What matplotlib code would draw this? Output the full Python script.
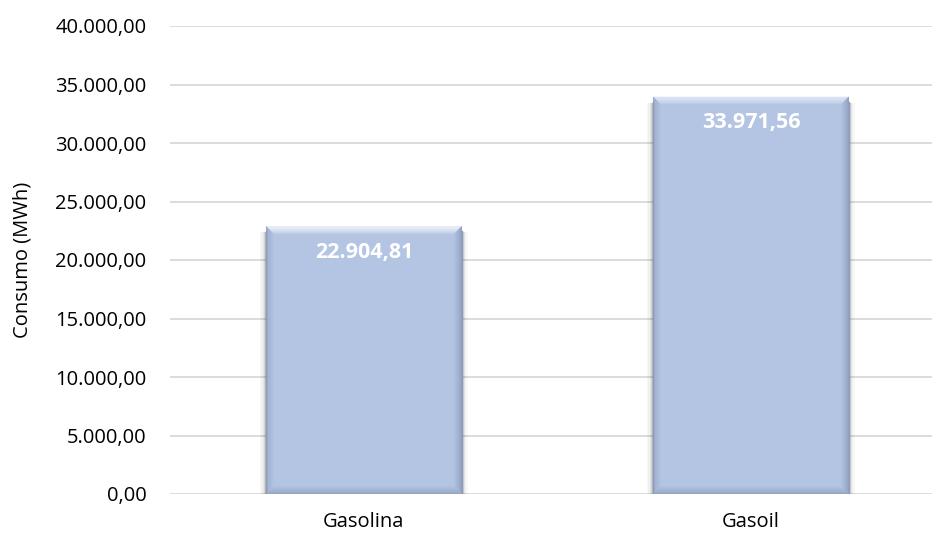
import matplotlib; matplotlib.use("Agg")
import matplotlib.pyplot as plt
import numpy as np
from matplotlib.colors import to_rgb
from matplotlib.patches import Polygon, Rectangle
from matplotlib.ticker import FuncFormatter

plt.rcParams.update({"font.family": ["Open Sans", "DejaVu Sans"], "font.size": 14.5})

categories = ["Gasolina", "Gasoil"]
values = [22904.81, 33971.56]
yticks = [0, 5000, 10000, 15000, 20000, 25000, 30000, 35000, 40000]

def es_fmt(v, pos=None):
    s = f"{v:,.2f}"
    return s.replace(",", "X").replace(".", ",").replace("X", ".")

W, H = 932, 533
fig = plt.figure(figsize=(W / 100, H / 100), dpi=100)
ax = fig.add_axes([170 / W, 39 / H, 762 / W, 468 / H])
ax.set_xlim(-0.501, 1.468)
ax.set_ylim(0, 40000)

# pixel -> data conversion for the bevel and shadow
px_x = (1.468 + 0.501) / 762
px_y = 40000 / 468

fill = "#b4c5e4"
edge_cols = {"top": "#e8eef8", "left": "#9aabcb", "right": "#8a9aba", "bottom": "#96a7c7"}
edge_pow = {"top": 1.6, "left": 0.8, "right": 0.8, "bottom": 0.9}

def mix(c1, c2, t):
    a, b = np.array(to_rgb(c1)), np.array(to_rgb(c2))
    return tuple(a + (b - a) * t)

x = list(range(len(categories)))
bw = 0.506
bars = ax.bar(x, values, width=bw, color=fill, zorder=3)

for b, v in zip(bars, values):
    x0, x1 = b.get_x(), b.get_x() + b.get_width()
    # soft drop shadow around the bar
    for k, a in [(6, 0.03), (4.5, 0.04), (3, 0.06), (1.8, 0.09), (0.8, 0.14)]:
        ax.add_patch(Rectangle((x0 - k * px_x, -k * 0.6 * px_y), (x1 - x0) + 2 * k * px_x,
                               v - 6 * px_y + k * 0.6 * px_y,
                               color="#303030", alpha=a, lw=0, zorder=2))
    # bevel drawn as concentric rings fading into the fill colour
    n = 9
    for i in range(n):
        o, q = i, i + 1
        ox, oy, qx, qy = o * px_x, o * px_y, q * px_x, q * px_y
        sides = {
            "top": [(x0 + ox, v - oy), (x1 - ox, v - oy), (x1 - qx, v - qy), (x0 + qx, v - qy)],
            "left": [(x0 + ox, oy), (x0 + ox, v - oy), (x0 + qx, v - qy), (x0 + qx, qy)],
            "right": [(x1 - ox, oy), (x1 - ox, v - oy), (x1 - qx, v - qy), (x1 - qx, qy)],
            "bottom": [(x0 + ox, oy), (x1 - ox, oy), (x1 - qx, qy), (x0 + qx, qy)],
        }
        for name, pts in sides.items():
            t = (i / (n - 1)) ** edge_pow[name]
            ax.add_patch(Polygon(pts, closed=True, color=mix(edge_cols[name], fill, t),
                                 lw=0, zorder=4))
    # thin dark outline on the sides and base
    ax.plot([x0, x0, x1, x1], [v - 5 * px_y, 0, 0, v - 5 * px_y], color="#8d9bb7",
            lw=1.0, zorder=4.5, solid_joinstyle="miter")
    ax.text(b.get_x() + b.get_width() / 2, v - 26 * px_y, es_fmt(v), ha="center", va="center",
            color="white", fontsize=15.5, fontweight="bold", zorder=5)

ax.set_yticks(yticks)
ax.yaxis.set_major_formatter(FuncFormatter(es_fmt))
ax.set_xticks(x)
ax.set_xticklabels(categories)
ax.tick_params(length=0, labelsize=14.5, colors="black")
ax.tick_params(axis="y", pad=17)
ax.tick_params(axis="x", pad=13)
ax.grid(axis="y", color="#d9d9d9", lw=1.3, zorder=0)
ax.set_axisbelow(True)
for s in ax.spines.values():
    s.set_visible(False)
ax.set_ylabel("Consumo (MWh)", fontsize=14.5, labelpad=16)

fig.savefig("out.png", dpi=100)
